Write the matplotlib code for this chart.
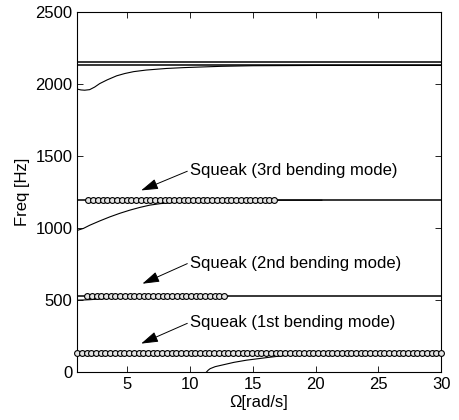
import numpy as np
import matplotlib
matplotlib.use("Agg")
import matplotlib.pyplot as plt

plt.rcParams['font.family'] = ['Liberation Sans', 'DejaVu Sans']

# flat modes (Hz), drawn across the whole sweep
flat_modes = [2155, 2130, 1194, 528, 134]

# squeak (unstable) branches: Omega sweep range and frequency
squeak_start = [1.0, 1.8, 1.9]
squeak_stop = [30.0, 12.7, 16.7]
squeak_count = [78, 30, 40]
squeak_freq = [134, 528, 1194]

# coupled branches
mode4_w = [1.0, 1.3, 1.6, 2.0, 2.4, 2.8, 3.4, 4.15, 4.8, 5.5, 6.5, 8.1, 9.5, 10.8, 12.5, 15.0, 20.0, 30.0]
mode4_f = [1966, 1960, 1958, 1962, 1980, 2004, 2030, 2058, 2074, 2087, 2098, 2109, 2115, 2119, 2124, 2128, 2130, 2130]

mode3_w = [1.0, 1.5, 2.0, 2.8, 3.6, 4.4, 5.2, 6.0, 6.8, 7.6, 8.4, 9.2, 10.5, 12.0, 14.0, 17.0, 20.5]
mode3_f = [984, 998, 1020, 1050, 1078, 1103, 1125, 1144, 1160, 1170, 1176, 1183, 1188, 1191, 1193, 1194, 1194]

mode2_w = [1.0, 1.5, 2.0, 3.0, 4.0, 5.0, 5.7, 7.0, 9.0, 13.0]
mode2_f = [500, 501, 503, 509, 516, 522, 526, 528, 528, 528]

mode1_w = [11.3, 11.45, 11.6, 12.0, 12.6, 13.5, 14.5, 15.5, 16.3, 17.1, 18.0, 19.2, 20.5, 22.0, 25.0, 30.0]
mode1_f = [0, 14, 24, 38, 50, 68, 83, 94, 103, 111, 120, 128, 132, 134, 134, 134]

labels = ['Squeak (3rd bending mode)', 'Squeak (2nd bending mode)', 'Squeak (1st bending mode)']
label_xy = [(10.0, 1398), (10.0, 757), (10.0, 342)]
arrow_xy = [(6.1, 1262), (6.2, 614), (6.1, 198)]

fig = plt.figure(figsize=(4.59, 4.2), dpi=100)
ax = fig.add_axes([0.168, 0.114, 0.793, 0.857])

for f in flat_modes:
    ax.axhline(f, color='k', lw=1.1)

ax.plot(mode4_w, mode4_f, color='k', lw=0.8)
ax.plot(mode3_w, mode3_f, color='k', lw=0.8)
ax.plot(mode2_w, mode2_f, color='k', lw=0.8)
ax.plot(mode1_w, mode1_f, color='k', lw=0.8)

for a, b, n, f in zip(squeak_start, squeak_stop, squeak_count, squeak_freq):
    w = np.linspace(a, b, n)
    ax.plot(w, np.full(n, f), 'o', ms=4.2, mfc='#e4e4e4', mec='k', mew=0.8,
            clip_on=False, zorder=3)

for txt, xy, head in zip(labels, label_xy, arrow_xy):
    ax.annotate(txt, xy=head, xytext=xy, fontsize=12, va='center', ha='left',
                arrowprops=dict(arrowstyle='-|>,head_length=0.8,head_width=0.25',
                                color='k', lw=0.7, mutation_scale=13,
                                relpos=(0, 0.55), shrinkA=0, shrinkB=0))

ax.set_xlim(1, 30)
ax.set_ylim(0, 2500)
ax.set_xticks([5, 10, 15, 20, 25, 30])
ax.set_yticks([0, 500, 1000, 1500, 2000, 2500])
ax.tick_params(direction='in', top=True, right=True, labelsize=12, length=4, width=0.6)
for s in ax.spines.values():
    s.set_linewidth(0.8)
ax.set_xlabel('Ω[rad/s]', fontsize=12, labelpad=2)
ax.set_ylabel('Freq [Hz]', fontsize=12, labelpad=4)

fig.savefig('out.png', dpi=100)
